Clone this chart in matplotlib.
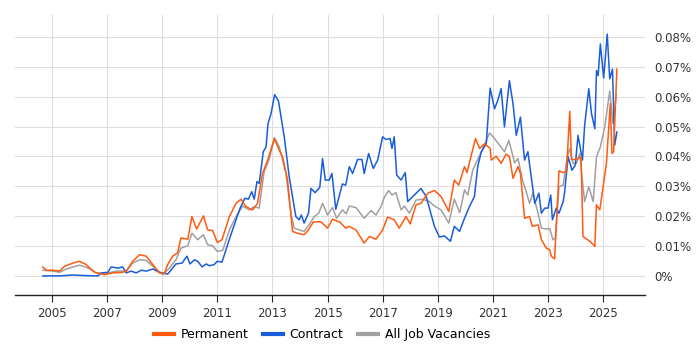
import matplotlib
matplotlib.use("Agg")
import matplotlib.pyplot as plt
from matplotlib.ticker import FuncFormatter

# values are % of all job ads
perm_t = [2004.67, 2004.79, 2005.04, 2005.28, 2005.46, 2005.76, 2006.0, 2006.24, 2006.55, 2006.73,
          2006.9, 2007.2, 2007.57, 2007.7, 2007.93, 2008.18, 2008.42, 2008.66, 2008.9, 2009.08,
          2009.2, 2009.38, 2009.56, 2009.68, 2009.93, 2010.08, 2010.25, 2010.5, 2010.65, 2010.83,
          2011.0, 2011.17, 2011.44, 2011.68, 2011.86, 2012.04, 2012.28, 2012.46, 2012.64, 2012.83,
          2013.07, 2013.25, 2013.37, 2013.55, 2013.73, 2013.9, 2014.15, 2014.31, 2014.48, 2014.75,
          2015.0, 2015.18, 2015.45, 2015.66, 2015.79, 2016.03, 2016.33, 2016.52, 2016.76, 2017.0,
          2017.18, 2017.42, 2017.6, 2017.85, 2018.0, 2018.21, 2018.39, 2018.64, 2018.88, 2019.12,
          2019.4, 2019.6, 2019.76, 2019.97, 2020.06, 2020.25, 2020.37, 2020.52, 2020.7, 2020.9,
          2020.94, 2021.12, 2021.3, 2021.48, 2021.6, 2021.73, 2021.91, 2022.0, 2022.15, 2022.33,
          2022.43, 2022.64, 2022.76, 2022.94, 2023.06, 2023.12, 2023.24, 2023.4, 2023.55, 2023.67,
          2023.79, 2023.85, 2024.03, 2024.2, 2024.27, 2024.52, 2024.7, 2024.76, 2024.88, 2025.12,
          2025.26, 2025.32, 2025.38, 2025.5]
perm_v = [0.0030, 0.0019, 0.0019, 0.0016, 0.0032, 0.0043, 0.0049, 0.0038, 0.0012, 0.0008,
          0.0004, 0.0010, 0.0012, 0.0016, 0.0049, 0.0071, 0.0066, 0.0038, 0.0010, 0.0008,
          0.0038, 0.0066, 0.0077, 0.0127, 0.0123, 0.0199, 0.0157, 0.0201, 0.0154, 0.0152,
          0.0112, 0.0121, 0.0199, 0.0243, 0.0257, 0.0232, 0.0221, 0.0243, 0.0343, 0.0388,
          0.0460, 0.0421, 0.0399, 0.0321, 0.0149, 0.0143, 0.0138, 0.0154, 0.0180, 0.0182,
          0.0160, 0.0190, 0.0180, 0.0160, 0.0166, 0.0154, 0.0110, 0.0132, 0.0123, 0.0154,
          0.0197, 0.0188, 0.0160, 0.0199, 0.0174, 0.0238, 0.0243, 0.0277, 0.0286, 0.0266,
          0.0216, 0.0321, 0.0304, 0.0366, 0.0346, 0.0416, 0.0460, 0.0427, 0.0443, 0.0427,
          0.0388, 0.0401, 0.0377, 0.0408, 0.0400, 0.0327, 0.0366, 0.0343, 0.0193, 0.0199,
          0.0166, 0.0171, 0.0121, 0.0093, 0.0088, 0.0066, 0.0057, 0.0352, 0.0346, 0.0350,
          0.0551, 0.0390, 0.0390, 0.0400, 0.0132, 0.0116, 0.0099, 0.0238, 0.0221, 0.0377,
          0.0577, 0.0410, 0.0416, 0.0693]

contract_t = [2004.67, 2005.28, 2005.76, 2006.24, 2006.67, 2006.79, 2007.03, 2007.15, 2007.4, 2007.57,
              2007.7, 2007.87, 2008.06, 2008.24, 2008.42, 2008.66, 2008.9, 2009.2, 2009.5, 2009.72,
              2009.9, 2010.01, 2010.17, 2010.29, 2010.45, 2010.6, 2010.71, 2010.89, 2011.0, 2011.17,
              2011.44, 2011.68, 2011.83, 2012.0, 2012.13, 2012.25, 2012.34, 2012.44, 2012.52, 2012.67,
              2012.77, 2012.84, 2012.95, 2013.08, 2013.22, 2013.43, 2013.61, 2013.85, 2013.97, 2014.05,
              2014.15, 2014.31, 2014.4, 2014.55, 2014.72, 2014.82, 2014.92, 2015.06, 2015.16, 2015.3,
              2015.54, 2015.66, 2015.79, 2015.91, 2016.09, 2016.25, 2016.33, 2016.49, 2016.66, 2016.82,
              2017.0, 2017.12, 2017.27, 2017.34, 2017.42, 2017.51, 2017.67, 2017.82, 2017.91, 2018.15,
              2018.39, 2018.58, 2018.88, 2019.06, 2019.24, 2019.46, 2019.6, 2019.79, 2019.97, 2020.15,
              2020.33, 2020.45, 2020.58, 2020.76, 2020.9, 2021.06, 2021.18, 2021.3, 2021.42, 2021.6,
              2021.73, 2021.85, 2022.0, 2022.15, 2022.27, 2022.43, 2022.52, 2022.67, 2022.76, 2022.88,
              2023.0, 2023.1, 2023.16, 2023.3, 2023.4, 2023.55, 2023.6, 2023.73, 2023.87, 2023.99,
              2024.09, 2024.25, 2024.33, 2024.48, 2024.58, 2024.7, 2024.76, 2024.82, 2024.9, 2025.02,
              2025.15, 2025.24, 2025.34, 2025.42, 2025.5]
contract_v = [0.0000, 0.0000, 0.0003, 0.0001, 0.0000, 0.0010, 0.0012, 0.0030, 0.0026, 0.0030,
              0.0010, 0.0016, 0.0010, 0.0019, 0.0016, 0.0023, 0.0012, 0.0006, 0.0040, 0.0043,
              0.0066, 0.0040, 0.0054, 0.0049, 0.0030, 0.0040, 0.0034, 0.0038, 0.0049, 0.0046,
              0.0123, 0.0188, 0.0227, 0.0260, 0.0257, 0.0282, 0.0257, 0.0316, 0.0310, 0.0416,
              0.0432, 0.0510, 0.0543, 0.0607, 0.0586, 0.0466, 0.0332, 0.0199, 0.0188, 0.0204,
              0.0177, 0.0210, 0.0293, 0.0279, 0.0297, 0.0393, 0.0321, 0.0321, 0.0343, 0.0223,
              0.0308, 0.0304, 0.0366, 0.0343, 0.0390, 0.0390, 0.0343, 0.0410, 0.0360, 0.0388,
              0.0466, 0.0457, 0.0460, 0.0427, 0.0466, 0.0338, 0.0321, 0.0346, 0.0249, 0.0271,
              0.0293, 0.0266, 0.0166, 0.0130, 0.0134, 0.0116, 0.0166, 0.0149, 0.0193, 0.0232,
              0.0266, 0.0366, 0.0416, 0.0443, 0.0629, 0.0560, 0.0588, 0.0627, 0.0499, 0.0654,
              0.0577, 0.0471, 0.0532, 0.0388, 0.0416, 0.0304, 0.0243, 0.0277, 0.0210, 0.0227,
              0.0227, 0.0271, 0.0188, 0.0227, 0.0210, 0.0249, 0.0277, 0.0399, 0.0354, 0.0371,
              0.0471, 0.0388, 0.0504, 0.0627, 0.0543, 0.0493, 0.0688, 0.0671, 0.0777, 0.0663,
              0.0810, 0.0660, 0.0693, 0.0438, 0.0482]

all_t = [2004.67, 2005.04, 2005.28, 2005.52, 2006.0, 2006.3, 2006.61, 2006.97, 2007.33, 2007.7,
         2007.93, 2008.18, 2008.42, 2008.66, 2009.03, 2009.27, 2009.5, 2009.68, 2009.93, 2010.08,
         2010.29, 2010.5, 2010.65, 2010.83, 2011.0, 2011.2, 2011.44, 2011.68, 2011.92, 2012.16,
         2012.34, 2012.52, 2012.7, 2012.88, 2013.08, 2013.25, 2013.49, 2013.67, 2013.79, 2013.97,
         2014.15, 2014.33, 2014.52, 2014.68, 2014.82, 2015.0, 2015.18, 2015.33, 2015.54, 2015.68,
         2015.79, 2016.03, 2016.33, 2016.58, 2016.76, 2016.94, 2017.06, 2017.22, 2017.34, 2017.48,
         2017.67, 2017.79, 2017.97, 2018.21, 2018.45, 2018.7, 2018.88, 2019.12, 2019.4, 2019.6,
         2019.8, 2019.97, 2020.09, 2020.27, 2020.45, 2020.64, 2020.88, 2021.06, 2021.24, 2021.42,
         2021.58, 2021.79, 2021.91, 2022.09, 2022.21, 2022.33, 2022.45, 2022.64, 2022.76, 2022.94,
         2023.06, 2023.18, 2023.27, 2023.4, 2023.55, 2023.7, 2023.79, 2023.91, 2024.03, 2024.15,
         2024.27, 2024.33, 2024.48, 2024.64, 2024.76, 2024.9, 2025.06, 2025.24, 2025.36, 2025.48]
all_v = [0.0019, 0.0016, 0.0012, 0.0023, 0.0036, 0.0027, 0.0010, 0.0008, 0.0016, 0.0016,
         0.0043, 0.0054, 0.0052, 0.0032, 0.0004, 0.0027, 0.0054, 0.0093, 0.0101, 0.0143,
         0.0121, 0.0138, 0.0104, 0.0101, 0.0082, 0.0086, 0.0154, 0.0199, 0.0234, 0.0221,
         0.0232, 0.0227, 0.0349, 0.0390, 0.0463, 0.0432, 0.0343, 0.0210, 0.0160, 0.0154,
         0.0149, 0.0171, 0.0199, 0.0210, 0.0243, 0.0204, 0.0229, 0.0193, 0.0221, 0.0208,
         0.0234, 0.0229, 0.0193, 0.0219, 0.0204, 0.0232, 0.0263, 0.0286, 0.0271, 0.0279,
         0.0221, 0.0234, 0.0210, 0.0254, 0.0257, 0.0249, 0.0234, 0.0221, 0.0177, 0.0257,
         0.0212, 0.0288, 0.0271, 0.0354, 0.0390, 0.0427, 0.0479, 0.0460, 0.0438, 0.0416,
         0.0454, 0.0379, 0.0393, 0.0316, 0.0282, 0.0243, 0.0277, 0.0210, 0.0160, 0.0157,
         0.0159, 0.0121, 0.0127, 0.0299, 0.0304, 0.0399, 0.0427, 0.0377, 0.0377, 0.0410,
         0.0299, 0.0249, 0.0299, 0.0249, 0.0399, 0.0432, 0.0499, 0.0619, 0.0510, 0.0608]

year_ticks = [2005, 2007, 2009, 2011, 2013, 2015, 2017, 2019, 2021, 2023, 2025]
pct_ticks = [0, 0.01, 0.02, 0.03, 0.04, 0.05, 0.06, 0.07, 0.08]

fig = plt.figure(figsize=(7, 3.5), dpi=100)
ax = fig.add_axes([15 / 700, 55 / 350, 630 / 700, 280 / 350])

grid = "#dddddd"
ax.plot(all_t, all_v, color="#a0a0a0", lw=1.1, label="All Job Vacancies", zorder=2)
ax.plot(contract_t, contract_v, color="#1a5ddb", lw=1.1, label="Contract", zorder=3)
ax.plot(perm_t, perm_v, color="#ff5a0f", lw=1.1, label="Permanent", zorder=4)

ax.set_xlim(2003.66, 2026.52)
ax.set_ylim(-0.0064, 0.0874)
ax.set_xticks(year_ticks)
ax.set_xticklabels([str(y) for y in year_ticks])
ax.set_yticks(pct_ticks)
ax.yaxis.set_major_formatter(FuncFormatter(lambda v, p: "0%" if v == 0 else "%.2f%%" % v))
ax.yaxis.tick_right()
ax.grid(True, color=grid, lw=0.8)
ax.set_axisbelow(True)

for s in ["top", "left", "right"]:
    ax.spines[s].set_visible(False)
ax.spines["bottom"].set_color("#222222")
ax.spines["bottom"].set_linewidth(1.0)
ax.tick_params(axis="y", length=0, pad=7, labelsize=8.5, labelcolor="#333333")
ax.tick_params(axis="x", length=5, width=0.8, color="#222222", labelsize=8.5, labelcolor="#333333")

h, l = ax.get_legend_handles_labels()
order = [2, 1, 0]
leg = fig.legend([h[i] for i in order], [l[i] for i in order], loc="center",
                 bbox_to_anchor=(0.46, 0.043), ncol=3, frameon=False, fontsize=9,
                 handlelength=1.6, columnspacing=1.2, handletextpad=0.5)
for line in leg.get_lines():
    line.set_linewidth(3)

fig.savefig("out.png", dpi=100)
